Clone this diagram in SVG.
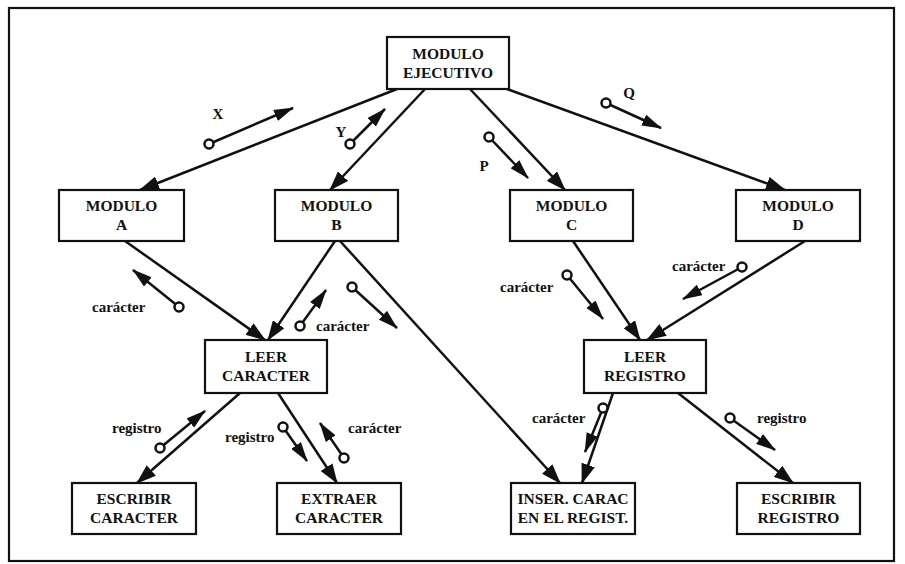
<svg xmlns="http://www.w3.org/2000/svg" width="905" height="564" viewBox="0 0 905 564">
<style>
.frame{fill:none;stroke:#111;stroke-width:2.2}
.box{fill:#fff;stroke:#111;stroke-width:2.2}
.nt{font-family:"Liberation Serif","Times New Roman",serif;font-weight:bold;font-size:15.5px;text-anchor:middle;fill:#111}
.lb{font-family:"Liberation Serif","Times New Roman",serif;font-weight:bold;font-size:15px;fill:#111}
.c{stroke:#111;stroke-width:2.5;fill:none;marker-end:url(#ah)}
.dc{stroke:#111;stroke-width:2.5;fill:none;marker-end:url(#ah2)}
.dot{fill:#fff;stroke:#111;stroke-width:2.5}
</style>
<defs>
<marker id="ah" viewBox="0 0 20 14" refX="19" refY="7" markerWidth="20" markerHeight="14" markerUnits="userSpaceOnUse" orient="auto">
<path d="M0,0 L20,7 L0,14 z" fill="#111"/>
</marker>
<marker id="ah2" viewBox="0 0 20 12" refX="19" refY="6" markerWidth="20" markerHeight="12" markerUnits="userSpaceOnUse" orient="auto">
<path d="M0,0 L20,6 L0,12 z" fill="#111"/>
</marker>
</defs>
<rect width="905" height="564" fill="#fff"/>
<rect class="frame" x="9" y="8" width="885" height="553"/>

<g id="connectors">
<line class="c" x1="397" y1="89" x2="140" y2="190"/>
<line class="c" x1="425" y1="89" x2="330" y2="190"/>
<line class="c" x1="470" y1="89" x2="565" y2="190"/>
<line class="c" x1="507" y1="89" x2="785" y2="190"/>
<line class="c" x1="125" y1="241" x2="265" y2="340"/>
<line class="c" x1="335" y1="241" x2="268" y2="340"/>
<line class="c" x1="340" y1="241" x2="560" y2="483"/>
<line class="c" x1="573" y1="241" x2="640" y2="340"/>
<line class="c" x1="805" y1="241" x2="647" y2="340"/>
<line class="c" x1="240" y1="393" x2="137" y2="483"/>
<line class="c" x1="278" y1="393" x2="337" y2="483"/>
<line class="c" x1="613" y1="393" x2="582" y2="483"/>
<line class="c" x1="678" y1="393" x2="793" y2="483"/>
</g>

<g id="couples">
<line class="dc" x1="209" y1="144" x2="293" y2="108"/><circle class="dot" cx="209" cy="144" r="4.5"/>
<text class="lb" x="218" y="119" text-anchor="middle">X</text>
<line class="dc" x1="350" y1="144" x2="385" y2="109"/><circle class="dot" cx="350" cy="144" r="4.5"/>
<text class="lb" x="341" y="137" text-anchor="middle">Y</text>
<line class="dc" x1="489" y1="137" x2="528" y2="178"/><circle class="dot" cx="489" cy="137" r="4.5"/>
<text class="lb" x="484" y="171" text-anchor="middle">P</text>
<line class="dc" x1="606" y1="103" x2="661" y2="128"/><circle class="dot" cx="606" cy="103" r="4.5"/>
<text class="lb" x="629" y="98" text-anchor="middle">Q</text>

<line class="dc" x1="179" y1="307" x2="133" y2="270"/><circle class="dot" cx="179" cy="307" r="4.5"/>
<text class="lb" x="92" y="312">carácter</text>
<line class="dc" x1="300" y1="326" x2="326" y2="290"/><circle class="dot" cx="300" cy="326" r="4.5"/>
<text class="lb" x="316" y="331">carácter</text>
<line class="dc" x1="352" y1="287" x2="397" y2="328"/><circle class="dot" cx="352" cy="287" r="4.5"/>

<line class="dc" x1="567" y1="275" x2="603" y2="319"/><circle class="dot" cx="567" cy="275" r="4.5"/>
<text class="lb" x="500" y="292">carácter</text>
<line class="dc" x1="742" y1="267" x2="683" y2="299"/><circle class="dot" cx="742" cy="267" r="4.5"/>
<text class="lb" x="672" y="271">carácter</text>

<line class="dc" x1="160" y1="448" x2="205" y2="411"/><circle class="dot" cx="160" cy="448" r="4.5"/>
<text class="lb" x="112" y="433">registro</text>
<line class="dc" x1="283" y1="427" x2="307" y2="461"/><circle class="dot" cx="283" cy="427" r="4.5"/>
<text class="lb" x="225" y="442">registro</text>
<line class="dc" x1="344" y1="458" x2="320" y2="423"/><circle class="dot" cx="344" cy="458" r="4.5"/>
<text class="lb" x="348" y="433">carácter</text>

<line class="dc" x1="603" y1="408" x2="585" y2="452"/><circle class="dot" cx="603" cy="408" r="4.5"/>
<text class="lb" x="532" y="423">carácter</text>
<line class="dc" x1="730" y1="418" x2="775" y2="450"/><circle class="dot" cx="730" cy="418" r="4.5"/>
<text class="lb" x="757" y="423">registro</text>
</g>

<g id="ejecutivo"><rect class="box" x="387" y="37" width="122" height="52"/>
<text class="nt" x="448" y="59">MODULO</text><text class="nt" x="448" y="78">EJECUTIVO</text></g>
<g id="moduloA"><rect class="box" x="59" y="190" width="125" height="51"/>
<text class="nt" x="121.5" y="211">MODULO</text><text class="nt" x="121.5" y="230">A</text></g>
<g id="moduloB"><rect class="box" x="275" y="190" width="123" height="51"/>
<text class="nt" x="336.5" y="211">MODULO</text><text class="nt" x="336.5" y="230">B</text></g>
<g id="moduloC"><rect class="box" x="510" y="190" width="123" height="51"/>
<text class="nt" x="571.5" y="211">MODULO</text><text class="nt" x="571.5" y="230">C</text></g>
<g id="moduloD"><rect class="box" x="736" y="190" width="124" height="51"/>
<text class="nt" x="798" y="211">MODULO</text><text class="nt" x="798" y="230">D</text></g>
<g id="leerCaracter"><rect class="box" x="205" y="340" width="122" height="53"/>
<text class="nt" x="266" y="362">LEER</text><text class="nt" x="266" y="381">CARACTER</text></g>
<g id="leerRegistro"><rect class="box" x="584" y="340" width="122" height="53"/>
<text class="nt" x="645" y="362">LEER</text><text class="nt" x="645" y="381">REGISTRO</text></g>
<g id="escribirCaracter"><rect class="box" x="72" y="483" width="124" height="51"/>
<text class="nt" x="134" y="504">ESCRIBIR</text><text class="nt" x="134" y="523">CARACTER</text></g>
<g id="extraerCaracter"><rect class="box" x="277" y="483" width="124" height="51"/>
<text class="nt" x="339" y="504">EXTRAER</text><text class="nt" x="339" y="523">CARACTER</text></g>
<g id="inserCarac"><rect class="box" x="511" y="483" width="124" height="51"/>
<text class="nt" x="573" y="504">INSER. CARAC</text><text class="nt" x="573" y="523">EN EL REGIST.</text></g>
<g id="escribirRegistro"><rect class="box" x="737" y="483" width="123" height="51"/>
<text class="nt" x="798.5" y="504">ESCRIBIR</text><text class="nt" x="798.5" y="523">REGISTRO</text></g>
</svg>
